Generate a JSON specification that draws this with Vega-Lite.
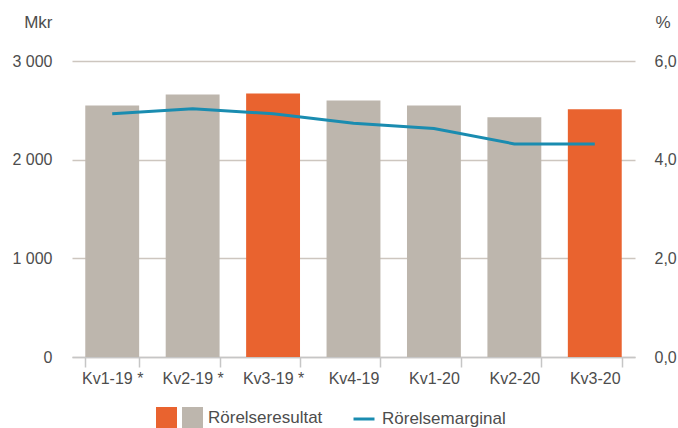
{
  "$schema": "https://vega.github.io/schema/vega-lite/v6.json",
  "width": 563,
  "height": 296,
  "autosize": {"type": "none"},
  "padding": {"left": 72, "top": 61, "right": 43, "bottom": 71},
  "config": {
    "view": {"stroke": null},
    "font": "Liberation Sans",
    "locale": {"number": {"decimal": ",", "thousands": " ", "grouping": [3], "currency": ["", " kr"]}}
  },
  "data": {
    "values": [
      {"kvartal": "Kv1-19 *", "resultat": 2550, "marginal": 4.93, "grupp": "Rörelseresultat"},
      {"kvartal": "Kv2-19 *", "resultat": 2660, "marginal": 5.03, "grupp": "Rörelseresultat"},
      {"kvartal": "Kv3-19 *", "resultat": 2670, "marginal": 4.93, "grupp": ""},
      {"kvartal": "Kv4-19", "resultat": 2600, "marginal": 4.74, "grupp": "Rörelseresultat"},
      {"kvartal": "Kv1-20", "resultat": 2550, "marginal": 4.63, "grupp": "Rörelseresultat"},
      {"kvartal": "Kv2-20", "resultat": 2430, "marginal": 4.32, "grupp": "Rörelseresultat"},
      {"kvartal": "Kv3-20", "resultat": 2510, "marginal": 4.32, "grupp": ""}
    ]
  },
  "encoding": {
    "x": {
      "field": "kvartal",
      "type": "nominal",
      "sort": null,
      "scale": {"paddingInner": 0.33, "paddingOuter": 0.165},
      "axis": {
        "title": null,
        "labelAngle": 0,
        "labelFontSize": 16,
        "labelColor": "#4d4d4d",
        "labelPadding": 3,
        "domainColor": "#c6c6c6",
        "domainWidth": 1.5,
        "tickColor": "#c6c6c6",
        "tickWidth": 1.5,
        "tickSize": 10,
        "tickBand": "extent"
      }
    }
  },
  "layer": [
    {
      "mark": {"type": "bar"},
      "encoding": {
        "y": {
          "field": "resultat",
          "type": "quantitative",
          "scale": {"domain": [0, 3000]},
          "axis": {
            "values": [0, 1000, 2000, 3000],
            "format": ",.0f",
            "grid": true,
            "gridColor": "#cdc6bf",
            "gridWidth": 1.5,
            "domain": false,
            "ticks": false,
            "labelPadding": 20,
            "labelFontSize": 16,
            "labelColor": "#4d4d4d",
            "title": "Mkr",
            "titleAngle": 0,
            "titleX": -20,
            "titleY": -34,
            "titleAlign": "right",
            "titleBaseline": "alphabetic",
            "titleFontWeight": "normal",
            "titleFontSize": 17,
            "titleColor": "#4d4d4d"
          }
        },
        "color": {
          "field": "grupp",
          "type": "nominal",
          "scale": {"domain": ["", "Rörelseresultat"], "range": ["#e9632f", "#bdb6ad"]},
          "legend": {
            "title": null,
            "orient": "none",
            "direction": "horizontal",
            "legendX": 84,
            "legendY": 346,
            "symbolType": "square",
            "symbolSize": 441,
            "symbolStrokeWidth": 0,
            "symbolOpacity": 1,
            "labelFontSize": 17,
            "labelColor": "#4d4d4d",
            "labelOffset": 5,
            "columnPadding": 0
          }
        }
      }
    },
    {
      "mark": {"type": "line", "strokeWidth": 3},
      "encoding": {
        "y": {
          "field": "marginal",
          "type": "quantitative",
          "scale": {"domain": [0, 6]},
          "axis": {
            "orient": "right",
            "values": [0, 2, 4, 6],
            "format": ".1f",
            "grid": false,
            "domain": false,
            "ticks": false,
            "labelPadding": 19,
            "labelFontSize": 16,
            "labelColor": "#4d4d4d",
            "title": "%",
            "titleAngle": 0,
            "titleX": 20,
            "titleY": -34,
            "titleAlign": "left",
            "titleBaseline": "alphabetic",
            "titleFontWeight": "normal",
            "titleFontSize": 17,
            "titleColor": "#4d4d4d"
          }
        },
        "stroke": {
          "datum": "Rörelsemarginal",
          "type": "nominal",
          "scale": {"range": ["#1a8cb0"]},
          "legend": {
            "title": null,
            "orient": "none",
            "legendX": 280,
            "legendY": 346,
            "symbolType": "stroke",
            "symbolSize": 441,
            "symbolStrokeWidth": 3,
            "labelFontSize": 17,
            "labelColor": "#4d4d4d",
            "labelOffset": 6
          }
        }
      }
    }
  ],
  "resolve": {"scale": {"y": "independent"}}
}
